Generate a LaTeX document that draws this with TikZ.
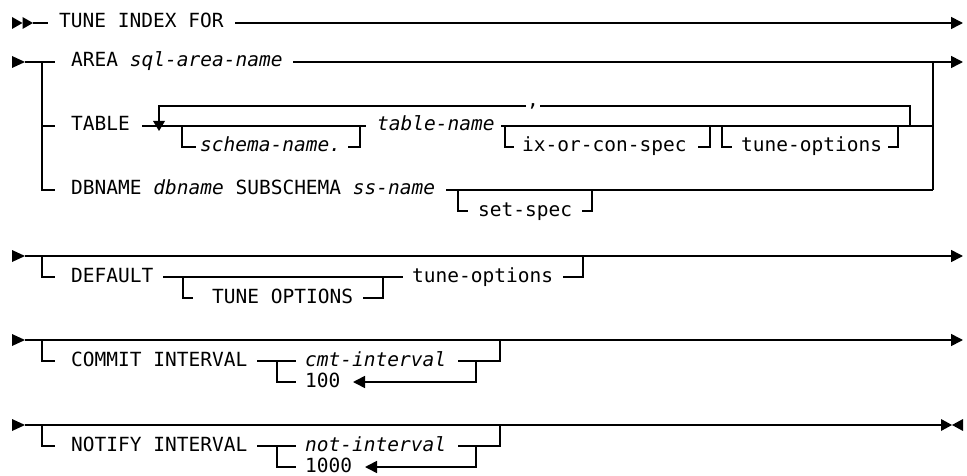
\documentclass[tikz,border=0pt]{standalone}
\usepackage{fontspec}
\newfontfamily\rrmono{DejaVu Sans Mono}
\usetikzlibrary{arrows.meta}
\begin{document}
\begin{tikzpicture}[x=1pt,y=-1pt,
  ln/.style={line width=1.6pt},
  tip/.style={-{Triangle[length=12pt,width=12pt]}},
  kw/.style={font=\rrmono\fontsize{19.5}{23}\selectfont, inner sep=0pt, anchor=base west},
  var/.style={kw, font=\rrmono\fontsize{19.5}{23}\selectfont\itshape},
  head/.style={fill=black}]
\useasboundingbox (0,0) rectangle (967,476);

% ---------- row 1
\fill[head] (12,17) -- (22.5,23) -- (12,29) -- cycle;
\fill[head] (22.5,17) -- (33,23) -- (22.5,29) -- cycle;
\coordinate (s1) at (33,23);
\node[kw] (tif) at (59,28) {TUNE INDEX FOR};
\draw[ln] (s1) -- (48,23);
\draw[ln,tip] (235,23) -- (963,23);

% ---------- AREA / TABLE / DBNAME
\fill[head] (12,56) -- (25,62) -- (12,68) -- cycle;
\draw[ln] (25,62) -- (55,62);
\draw[ln] (42,62) -- (42,190) -- (55,190);
\draw[ln] (42,126) -- (55,126);
\node[kw] (area) at (71,67) {AREA \textit{sql-area-name}};
\draw[ln,tip] (293,62) -- (963,62);
\draw[ln] (933,62) -- (933,190);

\node[kw] (table) at (71,131) {TABLE};
\draw[ln] (142,126) -- (366,126);
\draw[ln] (501,126) -- (933,126);
\draw[ln] (910,126) -- (910,106) -- (540,106);
\draw[ln] (526,106) -- (159,106) -- (159,122);
\fill[head] (153,121) -- (165,121) -- (159,131) -- cycle;
\node[kw] (comma) at (527,107) {,};
\draw[ln] (182,126) -- (182,147) -- (196,147);
\node[var] (schema) at (200,152) {schema-name.};
\draw[ln] (348,147) -- (360,147) -- (360,126);
\node[var] (tname) at (377,131) {table-name};
\draw[ln] (505,126) -- (505,147) -- (514,147);
\node[kw] (ixcon) at (522,152) {ix-or-con-spec};
\draw[ln] (698,147) -- (710,147) -- (710,126);
\draw[ln] (722,126) -- (722,147) -- (732,147);
\node[kw] (topt) at (741,152) {tune-options};
\draw[ln] (888,147) -- (898,147) -- (898,126);

\node[kw] (db) at (71,195) {DBNAME \textit{dbname} SUBSCHEMA \textit{ss-name}};
\draw[ln] (446,190) -- (933,190);
\draw[ln] (458,190) -- (458,211) -- (468,211);
\node[kw] (setspec) at (478,216) {set-spec};
\draw[ln] (582,211) -- (592,211) -- (592,190);

% ---------- DEFAULT
\fill[head] (12,250) -- (25,256) -- (12,262) -- cycle;
\draw[ln,tip] (25,256) -- (963,256);
\draw[ln] (42,256) -- (42,277) -- (55,277);
\node[kw] (dflt) at (71,282) {DEFAULT};
\draw[ln] (163,277) -- (403,277);
\draw[ln] (183,277) -- (183,298) -- (193,298);
\node[kw] (tuneopt) at (212,303) {TUNE OPTIONS};
\draw[ln] (363,298) -- (383,298) -- (383,277);
\node[kw] (dtopt) at (412,282) {tune-options};
\draw[ln] (563,277) -- (583,277) -- (583,256);

% ---------- COMMIT
\fill[head] (12,334) -- (25,340) -- (12,346) -- cycle;
\draw[ln,tip] (25,340) -- (963,340);
\draw[ln] (42,340) -- (42,361) -- (55,361);
\node[kw] (commit) at (71,366) {COMMIT INTERVAL};
\draw[ln] (257,361) -- (296,361);
\draw[ln] (277,361) -- (277,382) -- (296,382);
\node[var] (cmt) at (305,366) {cmt-interval};
\draw[ln] (458,361) -- (500,361) -- (500,340);
\node[kw] (c100) at (305,387) {100};
\draw[ln,tip] (476,361) -- (476,382) -- (353,382);

% ---------- NOTIFY
\fill[head] (12,419) -- (25,425) -- (12,431) -- cycle;
\draw[ln] (25,425) -- (941,425);
\fill[head] (941,419) -- (952,425) -- (941,431) -- cycle;
\fill[head] (963,419) -- (952,425) -- (963,431) -- cycle;
\draw[ln] (42,425) -- (42,446) -- (55,446);
\node[kw] (notify) at (71,451) {NOTIFY INTERVAL};
\draw[ln] (257,446) -- (296,446);
\draw[ln] (277,446) -- (277,467) -- (296,467);
\node[var] (nint) at (305,451) {not-interval};
\draw[ln] (458,446) -- (500,446) -- (500,425);
\node[kw] (n1000) at (305,472) {1000};
\draw[ln,tip] (476,446) -- (476,467) -- (365,467);
\end{tikzpicture}
\end{document}
